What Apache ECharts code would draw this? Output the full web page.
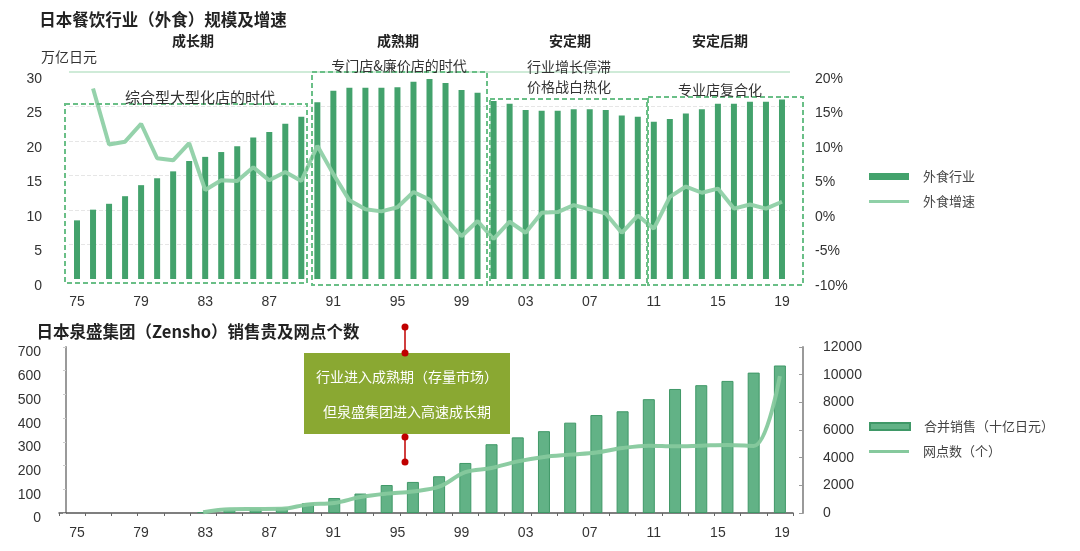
<!DOCTYPE html>
<html>
<head>
<meta charset="utf-8">
<script src="https://cdn.jsdelivr.net/npm/echarts@6/dist/echarts.min.js"></script>
<style>
  html, body { margin: 0; padding: 0; background: #fff; }
  #main { width: 1080px; height: 551px; }
</style>
</head>
<body>
<div id="main"></div>
<script>
// 上图：外食行业规模（万亿日元）及增速（%），1975-2019
var years = ['75','76','77','78','79','80','81','82','83','84','85','86','87','88','89',
             '90','91','92','93','94','95','96','97','98','99','00','01','02','03','04',
             '05','06','07','08','09','10','11','12','13','14','15','16','17','18','19'];
var marketSize = [8.5, 10.05, 10.9, 12.0, 13.6, 14.6, 15.6, 17.1, 17.7, 18.4, 19.25, 20.5, 21.3, 22.5, 23.5,
                  25.6, 27.3, 27.7, 27.7, 27.7, 27.8, 28.6, 29.0, 28.4, 27.4, 27.0, 25.8, 25.4, 24.5, 24.4,
                  24.4, 24.6, 24.6, 24.5, 23.7, 23.5, 22.8, 23.2, 24.0, 24.6, 25.4, 25.4, 25.7, 25.7, 26.0];
var marketGrowth = ['-', 17.6, 9.5, 9.9, 12.5, 7.5, 7.2, 9.7, 2.9, 4.3, 4.2, 6.2, 4.3, 5.5, 4.2,
                    9.3, 5.2, 1.4, 0.1, -0.2, 0.4, 2.6, 1.5, -1.3, -3.8, -1.6, -4.2, -1.7, -3.3, -0.4,
                    -0.3, 0.7, 0.1, -0.5, -3.3, -0.8, -2.7, 1.9, 3.4, 2.5, 3.1, 0.2, 0.8, 0.2, 1.2];

// 下图：泉盛集团合并销售（十亿日元）及网点数（个）
var zenshoSlots = ['1','2','3','4','5','6','7','8','9','10','11','12','13','14',
                   '15','16','17','18','19','20','21','22','23','24','25','26','27','28'];
var zenshoSales = ['-','-','-','-','-', 4, 13, 19, 21, 42, 63, 82, 118, 131,
                   155, 211, 290, 319, 345, 381, 413, 429, 480, 523, 539, 557, 592, 622];
var zenshoStores = ['-','-','-','-','-', 50, 280, 290, 300, 620, 720, 1150, 1400, 1560,
                    1900, 2950, 3250, 3730, 4050, 4220, 4380, 4700, 4870, 4820, 4870, 4920, 4850, 9900];

var numFont = 'Liberation Sans, Arial, sans-serif';
var cjkFont = 'Noto Sans CJK SC, sans-serif';
var boxColor = '#6abf87';

var chart = echarts.init(document.getElementById('main'));

function txt(text, x, y, size, weight, color) {
  return {
    type: 'text', x: x, y: y, z: 100,
    style: {
      text: text, fill: color || '#333',
      font: (weight || 'normal') + ' ' + size + 'px ' + cjkFont,
      align: 'center', verticalAlign: 'middle'
    }
  };
}
function dashBox(x, y, w, h) {
  return {
    type: 'rect', z: 90, silent: true,
    shape: { x: x, y: y, width: w, height: h },
    style: { fill: 'none', stroke: boxColor, lineWidth: 2, lineDash: [5, 3] }
  };
}
function redPin(y1, y2) {
  return [
    { type: 'line', z: 100, shape: { x1: 405, y1: y1, x2: 405, y2: y2 }, style: { stroke: '#c00000', lineWidth: 1.5 } },
    { type: 'circle', z: 101, shape: { cx: 405, cy: y1, r: 3.5 }, style: { fill: '#c00000' } },
    { type: 'circle', z: 101, shape: { cx: 405, cy: y2, r: 3.5 }, style: { fill: '#c00000' } }
  ];
}
function legendItem(name, top, h) {
  return {
    left: 869, top: top, padding: 0,
    itemWidth: 40, itemHeight: h,
    data: [{ name: name, icon: 'rect' }],
    textStyle: { fontFamily: cjkFont, fontSize: 13, color: '#444', padding: [0, 0, 0, 9] }
  };
}

var option = {
  animation: false,
  backgroundColor: '#fff',
  grid: [
    { left: 69, right: 290, top: 72, bottom: 272 },
    { left: 59, right: 287, top: 347, bottom: 38 },
    { left: 69, right: 290, top: 347, bottom: 38 }
  ],
  legend: [
    legendItem('外食行业', 170, 7),
    legendItem('外食增速', 195, 3),
    legendItem('合并销售（十亿日元）', 420, 7),
    legendItem('网点数（个）', 445, 3)
  ],
  xAxis: [{
    type: 'category', gridIndex: 0, data: years,
    axisLine: { show: false }, axisTick: { show: false },
    axisLabel: { interval: 3, margin: 16, color: '#333', fontSize: 14, fontFamily: numFont }
  }, {
    type: 'category', gridIndex: 1, data: zenshoSlots,
    axisLine: { show: true, lineStyle: { color: '#555', width: 1.5 } },
    axisTick: { show: true, length: 3, lineStyle: { color: '#666' } },
    axisLabel: { show: false }
  }, {
    type: 'category', gridIndex: 2, data: years,
    axisLine: { show: false }, axisTick: { show: false },
    axisLabel: { interval: 3, margin: 13, color: '#333', fontSize: 14, fontFamily: numFont }
  }],
  yAxis: [{
    type: 'value', gridIndex: 0, position: 'left', min: 0, max: 30, interval: 5,
    axisLine: { show: false }, axisTick: { show: false },
    axisLabel: { margin: 27, color: '#333', fontSize: 14, fontFamily: numFont, verticalAlign: 'top', lineHeight: 14 },
    splitLine: { show: true, lineStyle: { type: 'dashed', color: ['rgba(0,0,0,0)', '#e6e6e6', '#e6e6e6', '#e6e6e6', '#e6e6e6', '#e6e6e6', 'rgba(0,0,0,0)'] } }
  }, {
    type: 'value', gridIndex: 0, position: 'right', min: -10, max: 20, interval: 5,
    axisLine: { show: false }, axisTick: { show: false }, splitLine: { show: false },
    axisLabel: { margin: 25, color: '#333', fontSize: 14, fontFamily: numFont, formatter: '{value}%', verticalAlign: 'top', lineHeight: 14 }
  }, {
    type: 'value', gridIndex: 1, position: 'left', min: 0, max: 700, interval: 100, offset: -7,
    axisLine: { show: true, lineStyle: { color: '#9a9a9a', width: 2 } },
    axisTick: { show: true, length: 3, lineStyle: { color: '#ccc' } },
    splitLine: { show: false },
    axisLabel: { margin: 25, color: '#333', fontSize: 14, fontFamily: numFont, verticalAlign: 'top', lineHeight: 11 }
  }, {
    type: 'value', gridIndex: 1, position: 'right', min: 0, max: 12000, interval: 2000, offset: 10,
    axisLine: { show: true, lineStyle: { color: '#9a9a9a', width: 2 } },
    axisTick: { show: true, inside: true, length: 4, lineStyle: { color: '#9a9a9a' } },
    splitLine: { show: false },
    axisLabel: { margin: 20, color: '#333', fontSize: 14, fontFamily: numFont,
                 formatter: function (v) { return String(v); } }
  }, {
    type: 'value', gridIndex: 2, show: false, min: 0, max: 700
  }],
  series: [{
    name: '外食行业', type: 'bar', xAxisIndex: 0, yAxisIndex: 0,
    barWidth: 6, data: marketSize,
    itemStyle: { color: '#43a26c' },
    markLine: {
      silent: true, symbol: ['none', 'none'], label: { show: false },
      lineStyle: { type: 'solid', color: '#bfe4cb', width: 1.5 },
      data: [{ yAxis: 30 }]
    }
  }, {
    name: '外食增速', type: 'line', xAxisIndex: 0, yAxisIndex: 1,
    data: marketGrowth, symbol: 'none', z: 3,
    itemStyle: { color: '#8fd0a7' },
    lineStyle: { width: 4, color: 'rgba(143,208,167,0.95)' }
  }, {
    name: '合并销售（十亿日元）', type: 'bar', xAxisIndex: 1, yAxisIndex: 2,
    barWidth: 12, data: zenshoSales,
    itemStyle: { color: '#62b286', borderColor: '#3f9867', borderWidth: 1 }
  }, {
    name: '网点数（个）', type: 'line', xAxisIndex: 1, yAxisIndex: 3,
    data: zenshoStores, symbol: 'none', smooth: 0.35, z: 3,
    itemStyle: { color: '#86c99d' },
    lineStyle: { width: 4, color: 'rgba(134,201,157,0.95)' }
  }],
  graphic: [
    txt('日本餐饮行业（外食）规模及增速', 163, 20, 16.5, 'bold', '#222'),
    txt('成长期', 193, 41, 14, 'bold', '#222'),
    txt('成熟期', 398, 41, 14, 'bold', '#222'),
    txt('安定期', 570, 41, 14, 'bold', '#222'),
    txt('安定后期', 720, 41, 14, 'bold', '#222'),
    txt('万亿日元', 69, 57, 14, 'normal', '#333'),
    txt('综合型大型化店的时代', 200, 97, 15, 'normal', '#333'),
    txt('专门店&廉价店的时代', 399, 66, 14, 'normal', '#333'),
    txt('行业增长停滞', 569, 67, 14, 'normal', '#333'),
    txt('价格战白热化', 569, 87, 14, 'normal', '#333'),
    txt('专业店复合化', 720, 90, 14, 'normal', '#333'),
    dashBox(65, 104, 242, 179),
    dashBox(312, 72, 175, 213),
    dashBox(490, 99, 157, 186),
    dashBox(648, 97, 155, 188),
    txt('日本泉盛集团（Zensho）销售贵及网点个数', 198, 332, 16.5, 'bold', '#222'),
    {
      type: 'rect', z: 95,
      shape: { x: 304, y: 353, width: 206, height: 81 },
      style: { fill: '#8aa832' }
    },
    txt('行业进入成熟期（存量市场）', 407, 377, 14, 'normal', '#fff'),
    txt('但泉盛集团进入高速成长期', 407, 412, 14, 'normal', '#fff')
  ].concat(redPin(327, 353), redPin(437, 462))
};

chart.setOption(option);
window.addEventListener('resize', function () {
  chart.resize();
});
</script>
</body>
</html>
